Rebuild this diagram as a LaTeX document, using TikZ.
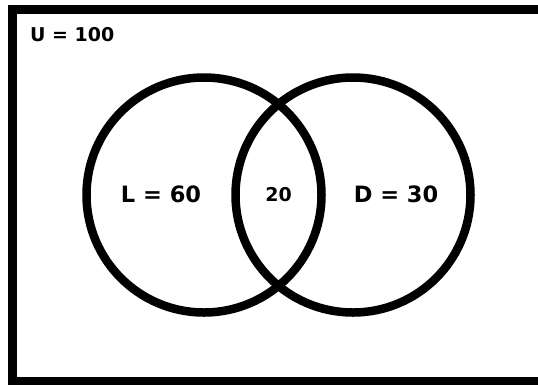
\documentclass[tikz,border=0pt]{standalone}
\usepackage{fontspec}
\setmainfont{DejaVu Sans}
\usetikzlibrary{positioning}

\begin{document}
\begin{tikzpicture}[
        x=1pt, y=-1pt,
        set/.style={circle, draw=black, line width=8.5pt, minimum size=235pt, inner sep=0pt},
        lbl/.style={font=\bfseries\fontsize{22.5}{26}\selectfont},
        small/.style={font=\bfseries\fontsize{19}{22}\selectfont},
    ]
        \useasboundingbox (0,0) rectangle (538,384);
        % universe
        \draw[line width=9pt] (12.5,9.5) rectangle (560,381);
        \node[small, anchor=west] (u) at (26.5,35) {U = 100};
        % sets
        \node[set] (l) at (204,195) {};
        \node[set] (d) at (353,195) {};
        \node[lbl] (lt) at (161,194) {L = 60};
        \node[small] (both) at (278.5,195) {20};
        \node[lbl] (dt) at (396,194) {D = 30};
    \end{tikzpicture}
\end{document}
